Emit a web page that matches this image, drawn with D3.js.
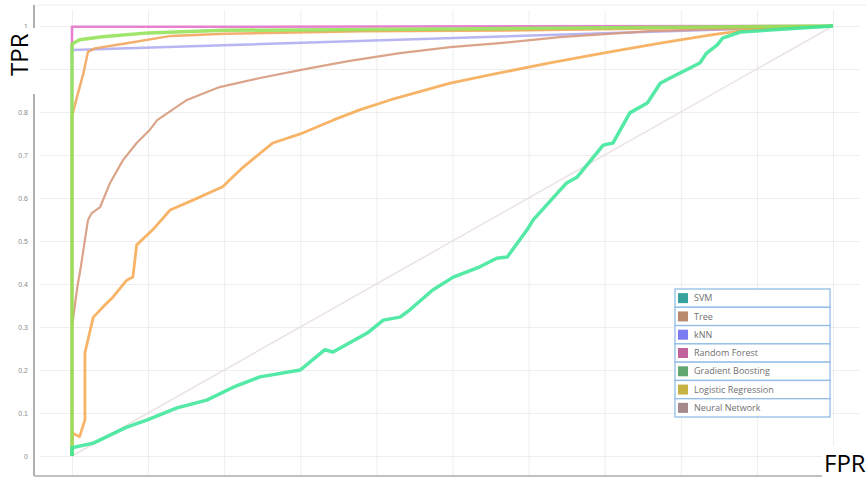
<!DOCTYPE html>
<html>
<head>
<meta charset="utf-8">
<script src="https://cdn.jsdelivr.net/npm/d3@7"></script>
<style>
  body { margin: 0; background: #fff; }
  svg { display: block; font-family: "Open Sans", "Liberation Sans", sans-serif; }
</style>
</head>
<body>
<div id="chart"></div>
<script>
//
// DATA
//

// legend entries
const models = ['SVM', 'Tree', 'kNN', 'Random Forest', 'Gradient Boosting', 'Logistic Regression', 'Neural Network'];
const swatchColors = ['#3aa29e', '#b8896c', '#7b7bf2', '#c2629c', '#62a672', '#c7b244', '#a58a8a'];

// axis ticks
const yTicks = [0, 0.1, 0.2, 0.3, 0.4, 0.5, 0.6, 0.7, 0.8, 0.9, 1];
const xTicks = [0, 0.1, 0.2, 0.3, 0.4, 0.5, 0.6, 0.7, 0.8, 0.9, 1];

// roc curves, [fpr, tpr]
const svmRoc = [
    [0, 0], [0, 0.019], [0.028, 0.030], [0.072, 0.067], [0.099, 0.084], [0.138, 0.112],
    [0.177, 0.130], [0.212, 0.160], [0.247, 0.184], [0.300, 0.200], [0.332, 0.247],
    [0.343, 0.242], [0.388, 0.286], [0.409, 0.316], [0.431, 0.323], [0.444, 0.340],
    [0.474, 0.386], [0.501, 0.416], [0.536, 0.440], [0.558, 0.460], [0.572, 0.463],
    [0.598, 0.526], [0.606, 0.549], [0.650, 0.635], [0.664, 0.649], [0.698, 0.723],
    [0.711, 0.728], [0.733, 0.798], [0.756, 0.821], [0.773, 0.867], [0.786, 0.879],
    [0.825, 0.914], [0.834, 0.937], [0.848, 0.956], [0.855, 0.972], [0.878, 0.986], [1, 1]
];
const treeRoc = [
    [0, 0], [0, 0.30], [0.007, 0.393], [0.011, 0.433], [0.021, 0.549], [0.026, 0.565],
    [0.037, 0.579], [0.050, 0.635], [0.067, 0.688], [0.085, 0.728], [0.102, 0.758],
    [0.112, 0.781], [0.151, 0.828], [0.194, 0.858], [0.247, 0.879], [0.313, 0.902],
    [0.365, 0.919], [0.431, 0.937], [0.497, 0.951], [0.562, 0.960], [0.641, 0.974],
    [0.760, 0.988], [1, 1]
];
const knnRoc = [[0, 0], [0, 0.944], [1, 1]];
const forestRoc = [[0, 0.94], [0, 0.998], [1, 1]];
const boostingRoc = [
    [0, 0], [0, 0.958], [0.01, 0.968], [0.04, 0.975], [0.1, 0.984], [0.2, 0.99], [0.5, 0.993], [1, 1]
];
const logisticRoc = [
    [0, 0], [0, 0.016], [0.001, 0.053], [0.010, 0.045], [0.017, 0.084], [0.017, 0.240],
    [0.028, 0.323], [0.041, 0.347], [0.054, 0.370], [0.072, 0.409], [0.080, 0.416],
    [0.085, 0.491], [0.106, 0.526], [0.129, 0.572], [0.159, 0.595], [0.198, 0.626],
    [0.225, 0.672], [0.264, 0.728], [0.300, 0.749], [0.343, 0.781], [0.378, 0.805],
    [0.418, 0.828], [0.497, 0.867], [0.562, 0.891], [0.628, 0.914], [0.707, 0.940],
    [0.773, 0.960], [0.838, 0.979], [0.887, 0.991], [1, 1]
];
const neuralRoc = [
    [0, 0], [0, 0.79], [0.007, 0.838], [0.015, 0.89], [0.021, 0.94], [0.03, 0.948],
    [0.072, 0.96], [0.13, 0.977], [0.2, 0.982], [0.38, 0.988], [0.6, 0.99], [1, 1]
];
const diagonal = [[0, 0], [1, 1]];

//
// CHART
//

const width = 866;
const height = 480;

const svg = d3.select('#chart')
    .append('svg')
        .attr('width', width)
        .attr('height', height);

const x = d3.scaleLinear()
    .domain([0, 1])
    .range([72, 833]);
const y = d3.scaleLinear()
    .domain([0, 1])
    .range([456, 26]);

// frame
svg.append('line')
    .attr('x1', 34).attr('x2', width)
    .attr('y1', 5).attr('y2', 5)
    .attr('stroke', '#eeeeee');

// grid
svg.append('g')
    .attr('transform', 'translate(40,0)')
    .call(d3.axisRight(y).tickValues(yTicks).tickSize(820).tickFormat(''))
    .call(g => g.select('.domain').remove())
    .call(g => g.selectAll('.tick line').attr('stroke', '#eeeeee'));
svg.append('g')
    .attr('transform', 'translate(0,10)')
    .call(d3.axisBottom(x).tickValues(xTicks).tickSize(466).tickFormat(''))
    .call(g => g.select('.domain').remove())
    .call(g => g.selectAll('.tick line').attr('stroke', '#eeeeee'));

// y axis labels
svg.append('g')
    .attr('transform', 'translate(34,0)')
    .call(d3.axisLeft(y).tickValues(yTicks).tickSize(0).tickPadding(6)
        .tickFormat(d => (d === 0 || d === 1) ? d3.format('d')(d) : d3.format('.1f')(d)))
    .call(g => g.select('.domain')
        .attr('stroke', '#b0b0b0')
        .attr('stroke-width', 2)
        .attr('d', 'M0,5V476'))
    .call(g => g.selectAll('.tick text')
        .attr('fill', '#8a8a8a')
        .style('font-size', '7px'));

// bottom axis line
svg.append('line')
    .attr('x1', 34).attr('x2', 822)
    .attr('y1', 476).attr('y2', 476)
    .attr('stroke', '#c0c0c0')
    .attr('stroke-width', 2);

// curves
const line = d3.line()
    .x(d => x(d[0]))
    .y(d => y(d[1]));

const curves = [
    { data: diagonal, color: '#e8dede', w: 1.5 },
    { data: forestRoc, color: '#e46fc9', w: 2.5 },
    { data: knnRoc, color: '#aeacf0', w: 2.5 },
    { data: treeRoc, color: '#d6977a', w: 2.2 },
    { data: neuralRoc, color: '#f0a45a', w: 2.5 },
    { data: logisticRoc, color: '#f6aa52', w: 2.8 },
    { data: boostingRoc, color: '#92e356', w: 3.5 },
    { data: svmRoc, color: '#3ce69a', w: 3.5 }
];

svg.append('g')
    .selectAll('path')
    .data(curves)
    .join('path')
        .attr('fill', 'none')
        .attr('stroke', d => d.color)
        .attr('stroke-width', d => d.w)
        .attr('stroke-linejoin', 'round')
        .attr('opacity', 0.88)
        .attr('d', d => line(d.data));

// legend
const legendY = d3.scaleBand()
    .domain(models)
    .range([289, 417]);

const legend = svg.append('g');
const rows = legend.selectAll('g')
    .data(models)
    .join('g')
        .attr('transform', d => `translate(675,${legendY(d)})`);
rows.append('rect')
    .attr('width', 155)
    .attr('height', legendY.bandwidth())
    .attr('fill', '#fff')
    .attr('stroke', '#92bde6')
    .attr('stroke-width', 1.3);
rows.append('rect')
    .attr('x', 3)
    .attr('y', legendY.bandwidth() / 2 - 5)
    .attr('width', 10)
    .attr('height', 10)
    .attr('fill', (d, i) => swatchColors[i]);
rows.append('text')
    .attr('x', 19)
    .attr('y', legendY.bandwidth() / 2)
    .attr('dy', '0.35em')
    .attr('fill', '#707070')
    .style('font-size', '9px')
    .text(d => d);

// axis titles
svg.append('rect')
    .attr('x', 0).attr('y', 28)
    .attr('width', 38).attr('height', 66)
    .attr('fill', '#fff');
svg.append('text')
    .attr('transform', 'translate(28,76) rotate(-90)')
    .attr('fill', '#000')
    .style('font-size', '24px')
    .text('TPR');

svg.append('rect')
    .attr('x', 822).attr('y', 446)
    .attr('width', 44).attr('height', 34)
    .attr('fill', '#fff');
svg.append('text')
    .attr('x', 824)
    .attr('y', 472)
    .attr('fill', '#000')
    .style('font-size', '24px')
    .text('FPR');
</script>
</body>
</html>
